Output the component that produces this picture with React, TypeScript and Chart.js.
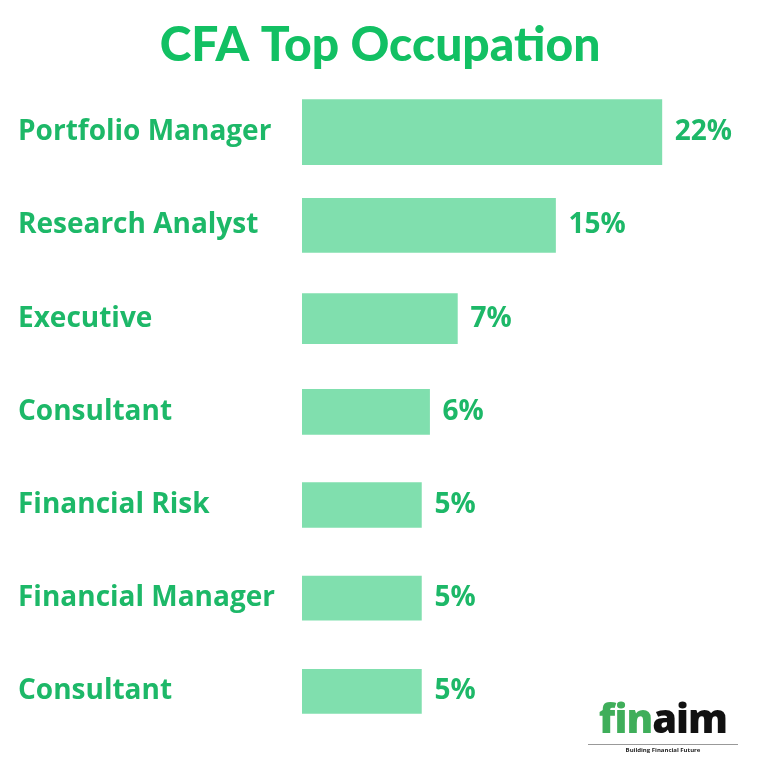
import React, { useEffect, useRef } from "react";
import { Chart, registerables } from "chart.js";

Chart.register(...registerables);

const titleText = "CFA Top Occupation";
const occupations = [
  "Portfolio Manager",
  "Research Analyst",
  "Executive",
  "Consultant",
  "Financial Risk",
  "Financial Manager",
  "Consultant",
];
// percentage labels printed next to each bar
const shares = [22, 15, 7, 6, 5, 5, 5];
// bar lengths as drawn in the picture (same units as the % axis)
const barLengths = [22, 15.5, 9.5, 7.8, 7.3, 7.3, 7.3];

const barThicknessPx = [65, 54, 50, 45, 45, 44, 44];
const BAR_COLOR = "#80dfae";
const TEXT_GREEN = "#1db868";
const TITLE_GREEN = "#12c063";

const valueLabelPlugin = {
  id: "valueLabels",
  afterDatasetsDraw(chart: any) {
    const ctx = chart.ctx;
    ctx.save();
    ctx.font = "700 28px 'Open Sans'";
    ctx.fillStyle = TEXT_GREEN;
    ctx.textAlign = "left";
    ctx.textBaseline = "middle";
    chart.data.datasets.forEach((ds: any, i: number) => {
      const meta = chart.getDatasetMeta(i);
      const el = meta.data[i];
      if (!el) return;
      ctx.fillText(shares[i] + "%", el.x + 13, el.y);
    });
    ctx.restore();
  },
};

export default function App() {
  const canvasRef = useRef<HTMLCanvasElement | null>(null);

  useEffect(() => {
    document.body.style.margin = "0";
    const canvas = canvasRef.current;
    if (!canvas) return;
    const datasets = occupations.map((_, i) => ({
      label: occupations[i],
      data: barLengths.map((v, j) => (j === i ? v : null)),
      backgroundColor: BAR_COLOR,
      borderWidth: 0,
      barThickness: barThicknessPx[i],
      grouped: false,
    }));
    const chart = new Chart(canvas, {
      type: "bar",
      data: { labels: occupations, datasets: datasets as any },
      options: {
        indexAxis: "y",
        animation: false,
        responsive: true,
        maintainAspectRatio: false,
        layout: { padding: { left: 18, right: 26, top: 0, bottom: 30 } },
        plugins: {
          legend: { display: false },
          tooltip: { enabled: false },
          title: {
            display: true,
            text: titleText,
            color: TITLE_GREEN,
            font: { family: "Lato", size: 48, weight: "900" as any },
            padding: { top: 17, bottom: 11 },
          },
        },
        scales: {
          x: {
            display: false,
            min: 0,
            max: 26.9,
          },
          y: {
            grid: { display: false },
            border: { display: false },
            afterFit(scale: any) {
              scale.width = 284;
            },
            ticks: {
              crossAlign: "far",
              color: TEXT_GREEN,
              font: { family: "Open Sans", size: 28, weight: "700" as any },
            },
          },
        },
      },
      plugins: [valueLabelPlugin],
    });
    return () => chart.destroy();
  }, []);

  return (
    <div style={{ position: "fixed", left: 0, top: 0, width: 768, height: 768, background: "#fff" }}>
      <canvas ref={canvasRef} />
      <div
        style={{
          position: "absolute",
          left: 588,
          top: 696,
          width: 150,
          textAlign: "center",
          fontFamily: "'Open Sans', sans-serif",
        }}
      >
        <div style={{ fontSize: 40, fontWeight: 800, lineHeight: "44px", letterSpacing: -1 }}>
          <span style={{ color: "#3fae5a" }}>fin</span>
          <span style={{ color: "#111" }}>aim</span>
        </div>
        <div style={{ fontSize: 6, fontWeight: 700, color: "#222", borderTop: "1px solid #999", marginTop: 4, paddingTop: 1 }}>
          Building Financial Future
        </div>
      </div>
    </div>
  );
}
